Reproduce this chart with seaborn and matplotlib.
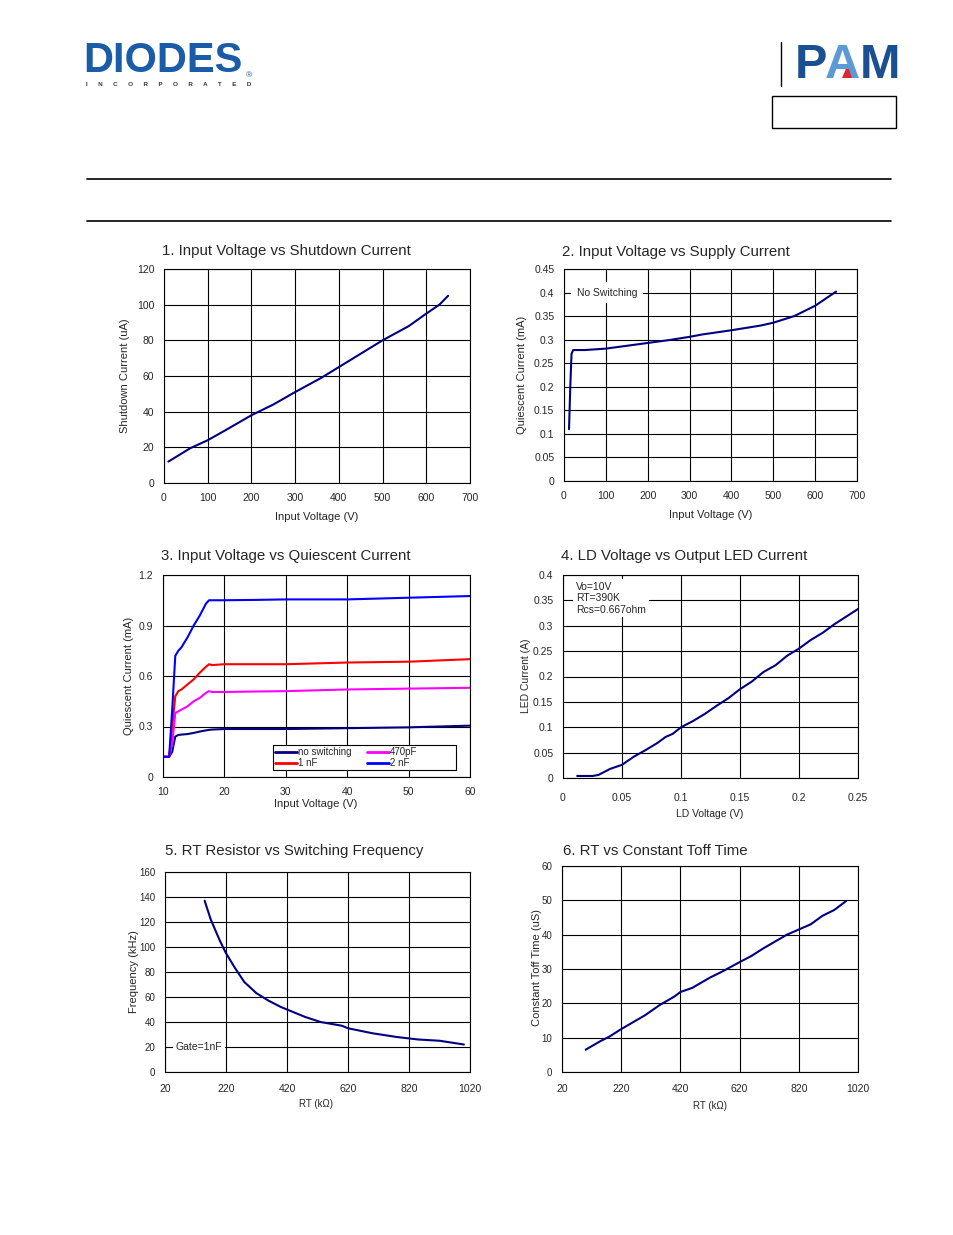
import numpy as np
import pandas as pd
import seaborn as sns
import matplotlib.pyplot as plt
from matplotlib.lines import Line2D
from matplotlib.patches import Rectangle, Polygon

sns.set_style('white')
plt.rcParams['font.family'] = ['Liberation Sans', 'DejaVu Sans']

# 1. Input Voltage vs Shutdown Current
c1_v = [10, 60, 100, 140, 200, 250, 300, 360, 400, 460, 500, 560, 600, 630, 650]
c1_i = [12, 19.5, 24, 29.5, 38, 44, 51, 59, 65, 74, 80, 88, 95, 100, 105]

# 2. Input Voltage vs Supply Current
c2_v = [12, 15, 18, 22, 50, 100, 150, 200, 250, 300, 330, 400, 470, 500, 550, 600, 650]
c2_i = [0.11, 0.20, 0.27, 0.278, 0.278, 0.281, 0.287, 0.293, 0.299, 0.306, 0.311,
        0.320, 0.330, 0.336, 0.350, 0.372, 0.402]

# 3. Input Voltage vs Quiescent Current
c3_v = [10, 11, 11.5, 12, 12.5, 13, 14, 15, 16, 17, 17.5, 18, 20, 25, 30, 40, 50, 60]
c3_noswitch = [0.12, 0.12, 0.15, 0.24, 0.25, 0.252, 0.255, 0.262, 0.27, 0.277, 0.28, 0.282,
               0.285, 0.285, 0.285, 0.29, 0.295, 0.305]
c3_470p = [0.12, 0.12, 0.20, 0.38, 0.39, 0.40, 0.42, 0.45, 0.47, 0.50, 0.51, 0.505,
           0.505, 0.508, 0.51, 0.52, 0.525, 0.53]
c3_1n = [0.12, 0.12, 0.30, 0.48, 0.51, 0.52, 0.55, 0.58, 0.62, 0.655, 0.67, 0.665,
         0.67, 0.67, 0.67, 0.68, 0.685, 0.70]
c3_2n = [0.12, 0.12, 0.40, 0.72, 0.75, 0.77, 0.83, 0.90, 0.96, 1.03, 1.05, 1.05,
         1.05, 1.052, 1.055, 1.055, 1.065, 1.075]
c3_names = ['no switching', '1 nF', '470pF', '2 nF']

# 4. LD Voltage vs Output LED Current
c4_v = [0.012, 0.025, 0.03, 0.04, 0.05, 0.06, 0.07, 0.08, 0.087, 0.093, 0.1, 0.11, 0.12,
        0.13, 0.14, 0.15, 0.16, 0.17, 0.18, 0.19, 0.2, 0.21, 0.22, 0.23, 0.24, 0.25]
c4_i = [0.004, 0.004, 0.006, 0.018, 0.026, 0.042, 0.055, 0.069, 0.081, 0.087, 0.1, 0.112,
        0.126, 0.142, 0.157, 0.175, 0.19, 0.209, 0.222, 0.241, 0.255, 0.272, 0.286,
        0.303, 0.318, 0.333]

# 5. RT Resistor vs Switching Frequency
c5_rt = [150, 170, 200, 220, 250, 280, 320, 360, 400, 420, 480, 530, 600, 620, 700,
         780, 850, 920, 1000]
c5_f = [137, 122, 105, 95, 83, 72, 63, 57, 52, 50, 44, 40, 37, 35, 31, 28, 26, 25, 22]

# 6. RT vs Constant Toff Time
c6_rt = [100, 150, 180, 220, 300, 350, 400, 420, 460, 520, 560, 620, 660, 700, 740,
         780, 820, 860, 900, 940, 980]
c6_t = [6.5, 9, 10.3, 12.5, 16.5, 19.5, 22, 23.3, 24.5, 27.5, 29.2, 32, 33.8, 36, 38,
        40, 41.5, 43, 45.5, 47.2, 49.8]

W, H = 954, 1235
fig = plt.figure(figsize=(W / 100, H / 100), dpi=100)


def fx(x):
    return x / W


def fy(y):
    return 1 - y / H


def make_ax(left, top, right, bottom):
    ax = fig.add_axes([fx(left), fy(bottom), fx(right - left), (bottom - top) / H])
    ax.grid(True, color='black', linewidth=0.8)
    ax.set_axisbelow(True)
    for s in ax.spines.values():
        s.set_visible(True)
        s.set_color('black')
        s.set_linewidth(0.8)
    ax.tick_params(length=0, labelsize=7.5, pad=7)
    return ax


navy = '#000080'
TITLE = 10.8
LAB = 8

# header
fig.text(fx(83), fy(61), 'DIODES', fontsize=30, fontweight='bold', color='#1b5ca8',
         va='center', ha='left')
fig.text(fx(246), fy(76), '®', fontsize=6, color='#1b5ca8', va='center')
fig.text(fx(86), fy(84), '      '.join('INCORPORATED'), fontsize=4.5, fontweight='bold',
         color='#333333', va='center', ha='left')
fig.add_artist(Line2D([fx(781), fx(781)], [fy(42), fy(86)], color='black', lw=1))
fig.text(fx(795), fy(66), 'P', fontsize=35, fontweight='bold', color='#1a4f91', va='center')
fig.text(fx(825), fy(66), 'A', fontsize=35, fontweight='bold', color='#5b9bd5', va='center')
fig.add_artist(Polygon([(fx(842), fy(78)), (fx(854), fy(78)), (fx(848), fy(64))],
                       closed=True, facecolor='#e0242b', edgecolor='none'))
fig.text(fx(860), fy(66), 'M', fontsize=35, fontweight='bold', color='#1a4f91', va='center')
fig.add_artist(Rectangle((fx(772), fy(128)), fx(124), 32 / H, fill=False,
                         edgecolor='black', lw=1))
fig.add_artist(Line2D([fx(87), fx(891)], [fy(179), fy(179)], color='black', lw=1.2))
fig.add_artist(Line2D([fx(87), fx(891)], [fy(221), fy(221)], color='black', lw=1.2))

# chart 1
ax1 = make_ax(164, 269, 470, 483)
sns.lineplot(x=c1_v, y=c1_i, ax=ax1, color=navy, linewidth=1.5)
ax1.set_xlim(0, 700)
ax1.set_ylim(0, 120)
ax1.set_xticks(range(0, 701, 100))
ax1.set_yticks(range(0, 121, 20))
fig.text(fx(162), fy(251), '1. Input Voltage vs Shutdown Current', fontsize=TITLE, va='center')
fig.text(fx(317), fy(517), 'Input Voltage (V)', fontsize=LAB, va='center', ha='center')
fig.text(fx(125), fy(376), 'Shutdown Current (uA)', fontsize=LAB, va='center', ha='center',
         rotation=90)

# chart 2
ax2 = make_ax(564, 269, 857, 481)
sns.lineplot(x=c2_v, y=c2_i, ax=ax2, color=navy, linewidth=1.5)
ax2.set_xlim(0, 700)
ax2.set_ylim(0, 0.45)
ax2.set_xticks(range(0, 701, 100))
ax2.set_yticks(np.arange(0, 0.451, 0.05))
ax2.set_yticklabels(['0', '0.05', '0.1', '0.15', '0.2', '0.25', '0.3', '0.35', '0.4', '0.45'])
ax2.text(30, 0.4, 'No Switching', fontsize=7.5, va='center', ha='left', zorder=3,
         bbox=dict(facecolor='white', edgecolor='none', pad=4))
fig.text(fx(562), fy(252), '2. Input Voltage vs Supply Current', fontsize=TITLE, va='center')
fig.text(fx(711), fy(515), 'Input Voltage (V)', fontsize=LAB, va='center', ha='center')
fig.text(fx(522), fy(375), 'Quiescent Current (mA)', fontsize=LAB, va='center', ha='center',
         rotation=90)

# chart 3
df3 = pd.DataFrame({
    'v': c3_v * 4,
    'i': c3_noswitch + c3_1n + c3_470p + c3_2n,
    'cap': sum([[n] * len(c3_v) for n in c3_names], []),
})
ax3 = make_ax(163, 575, 470, 777)
sns.lineplot(data=df3, x='v', y='i', hue='cap', hue_order=c3_names, ax=ax3,
             palette=[navy, '#ff0000', '#ff00ff', '#0000ff'], linewidth=1.5)
ax3.set_xlim(10, 60)
ax3.set_ylim(0, 1.2)
ax3.set_xticks(range(10, 61, 10))
ax3.set_yticks([0, 0.3, 0.6, 0.9, 1.2])
ax3.set_yticklabels(['0', '0.3', '0.6', '0.9', '1.2'])
ax3.set_xlabel('')
ax3.set_ylabel('')
ax3.add_patch(Rectangle((0.358, 0.035), 0.596, 0.123, transform=ax3.transAxes,
                        facecolor='white', edgecolor='black', lw=0.8, zorder=4))
leg = ax3.legend(ncol=2, loc='upper left', bbox_to_anchor=(0.36, 0.158),
                 fontsize=7, frameon=False, handlelength=2.2, handletextpad=0.15,
                 borderpad=0.2, labelspacing=0.15, borderaxespad=0, columnspacing=1.6)
leg.set_zorder(5)
for ln in leg.get_lines():
    ln.set_linewidth(2)
fig.text(fx(161), fy(556), '3. Input Voltage vs Quiescent Current', fontsize=TITLE, va='center')
fig.text(fx(316), fy(804), 'Input Voltage (V)', fontsize=LAB, va='center', ha='center')
fig.text(fx(129), fy(676), 'Quiescent Current (mA)', fontsize=LAB, va='center', ha='center',
         rotation=90)

# chart 4
ax4 = make_ax(563, 575, 858, 778)
sns.lineplot(x=c4_v, y=c4_i, ax=ax4, color=navy, linewidth=1.5)
ax4.set_xlim(0, 0.25)
ax4.set_ylim(0, 0.4)
ax4.set_xticks(np.arange(0, 0.251, 0.05))
ax4.set_xticklabels(['0', '0.05', '0.1', '0.15', '0.2', '0.25'])
ax4.set_yticks(np.arange(0, 0.401, 0.05))
ax4.set_yticklabels(['0', '0.05', '0.1', '0.15', '0.2', '0.25', '0.3', '0.35', '0.4'])
ax4.tick_params(axis='x', pad=11)
ax4.text(0.011, 0.386, 'Vo=10V\nRT=390K\nRcs=0.667ohm', fontsize=7.5, va='top', ha='left',
         linespacing=1.15, zorder=3,
         bbox=dict(facecolor='white', edgecolor='none', pad=2))
fig.text(fx(561), fy(556), '4. LD Voltage vs Output LED Current', fontsize=TITLE, va='center')
fig.text(fx(710), fy(814), 'LD Voltage (V)', fontsize=7.5, va='center', ha='center')
fig.text(fx(526), fy(676), 'LED Current (A)', fontsize=7.5, va='center', ha='center',
         rotation=90)

# chart 5
ax5 = make_ax(165, 872, 470, 1072)
sns.lineplot(x=c5_rt, y=c5_f, ax=ax5, color=navy, linewidth=1.5)
ax5.set_xlim(20, 1020)
ax5.set_ylim(0, 160)
ax5.set_xticks(range(20, 1021, 200))
ax5.set_yticks(range(0, 161, 20))
ax5.tick_params(axis='x', pad=9)
ax5.tick_params(axis='y', labelsize=7)
ax5.text(55, 20, 'Gate=1nF', fontsize=7.5, va='center', ha='left', zorder=3,
         bbox=dict(facecolor='white', edgecolor='none', pad=2))
fig.text(fx(165), fy(851), '5. RT Resistor vs Switching Frequency', fontsize=TITLE, va='center')
fig.text(fx(316), fy(1104), 'RT (kΩ)', fontsize=7, va='center', ha='center')
fig.text(fx(134), fy(972), 'Frequency (kHz)', fontsize=LAB, va='center', ha='center',
         rotation=90)

# chart 6
ax6 = make_ax(562, 866, 858, 1072)
sns.lineplot(x=c6_rt, y=c6_t, ax=ax6, color=navy, linewidth=1.5)
ax6.set_xlim(20, 1020)
ax6.set_ylim(0, 60)
ax6.set_xticks(range(20, 1021, 200))
ax6.set_yticks(range(0, 61, 10))
ax6.tick_params(axis='x', pad=9)
ax6.tick_params(axis='y', labelsize=7)
fig.text(fx(563), fy(851), '6. RT vs Constant Toff Time', fontsize=TITLE, va='center')
fig.text(fx(710), fy(1106), 'RT (kΩ)', fontsize=7, va='center', ha='center')
fig.text(fx(537), fy(968), 'Constant Toff Time (uS)', fontsize=LAB, va='center', ha='center',
         rotation=90)

fig.savefig('out.png', dpi=100)
